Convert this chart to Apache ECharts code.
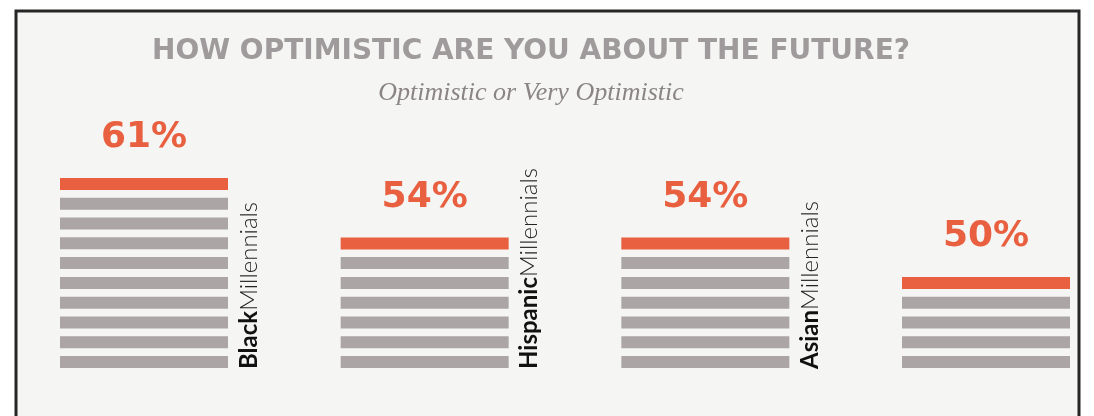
<!DOCTYPE html>
<html>
<head>
<meta charset="utf-8">
<script src="https://cdn.jsdelivr.net/npm/echarts@6/dist/echarts.min.js"></script>
<style>
  html, body { margin: 0; padding: 0; background: #ffffff; }
  #chart { width: 1094px; height: 416px; }
</style>
</head>
<body>
<div id="chart"></div>
<script>
// data
const groups = ['Black', 'Hispanic', 'Asian', 'White'];
const percents = [61, 54, 54, 50];
// stripes in each column, the orange top stripe included
const stripeCounts = [10, 7, 7, 5];
const showGroupLabel = [true, true, true, false]; // the last one is cut off by the frame

const RED = '#e8603f';
const GRAY = '#aba5a5';
const HEAVY = '"DejaVu Sans", Lato, sans-serif';

const chart = echarts.init(document.getElementById('chart'));

const option = {
  backgroundColor: '#ffffff',
  animation: false,
  graphic: [
    {
      type: 'rect',
      z: -10,
      shape: { x: 16, y: 11, width: 1063, height: 430 },
      style: { fill: '#f5f5f4', stroke: '#262626', lineWidth: 3 }
    }
  ],
  title: [
    {
      text: 'HOW OPTIMISTIC ARE YOU ABOUT THE FUTURE?',
      left: 526,
      top: 33,
      textAlign: 'center',
      textStyle: {
        fontFamily: HEAVY,
        fontWeight: 'bold',
        fontSize: 28,
        color: '#9f9a9b'
      }
    },
    {
      text: 'Optimistic or Very Optimistic',
      left: 526,
      top: 75,
      textAlign: 'center',
      textStyle: {
        fontFamily: '"Liberation Serif", "DejaVu Serif", serif',
        fontStyle: 'italic',
        fontWeight: 'normal',
        fontSize: 26,
        color: '#8a8486'
      }
    }
  ],
  grid: {
    left: 144,
    right: 108,
    top: 174,
    bottom: 44
  },
  xAxis: {
    type: 'category',
    data: groups,
    boundaryGap: false,
    show: false
  },
  yAxis: {
    type: 'value',
    min: 0,
    max: 10,
    show: false
  },
  series: [
    {
      name: 'gray',
      type: 'pictorialBar',
      barWidth: 168,
      symbol: 'rect',
      symbolSize: [168, 12],
      symbolRepeat: true,
      symbolMargin: '4.5!',
      itemStyle: { color: GRAY },
      label: {
        show: true,
        position: ['100%', '100%'],
        // offset is taken in the rotated frame: [along the text, across it]
        offset: [3, 9],
        rotate: 90,
        align: 'left',
        verticalAlign: 'top',
        formatter: function (p) {
          return '{b|' + p.name + '}{l|Millennials}';
        },
        rich: {
          b: {
            fontFamily: 'Lato, "DejaVu Sans", sans-serif',
            fontWeight: 'bold',
            fontSize: 24,
            color: '#111111'
          },
          l: {
            fontFamily: 'Lato, "DejaVu Sans", sans-serif',
            fontWeight: 300,
            fontSize: 24,
            color: '#222222'
          }
        }
      },
      data: stripeCounts.map(function (n, i) {
        return { value: n - 1, label: { show: showGroupLabel[i] } };
      }),
      z: 5
    },
    {
      name: 'orange',
      type: 'pictorialBar',
      barWidth: 168,
      symbol: 'rect',
      symbolSize: [168, 12],
      symbolPosition: 'end',
      symbolOffset: [0, 4],
      itemStyle: { color: RED },
      label: {
        show: true,
        position: 'top',
        distance: 18,
        formatter: function (p) {
          return percents[p.dataIndex] + '%';
        },
        fontFamily: HEAVY,
        fontWeight: 'bold',
        fontSize: 36,
        color: RED
      },
      data: stripeCounts,
      z: 6
    }
  ]
};

chart.setOption(option);
</script>
</body>
</html>
